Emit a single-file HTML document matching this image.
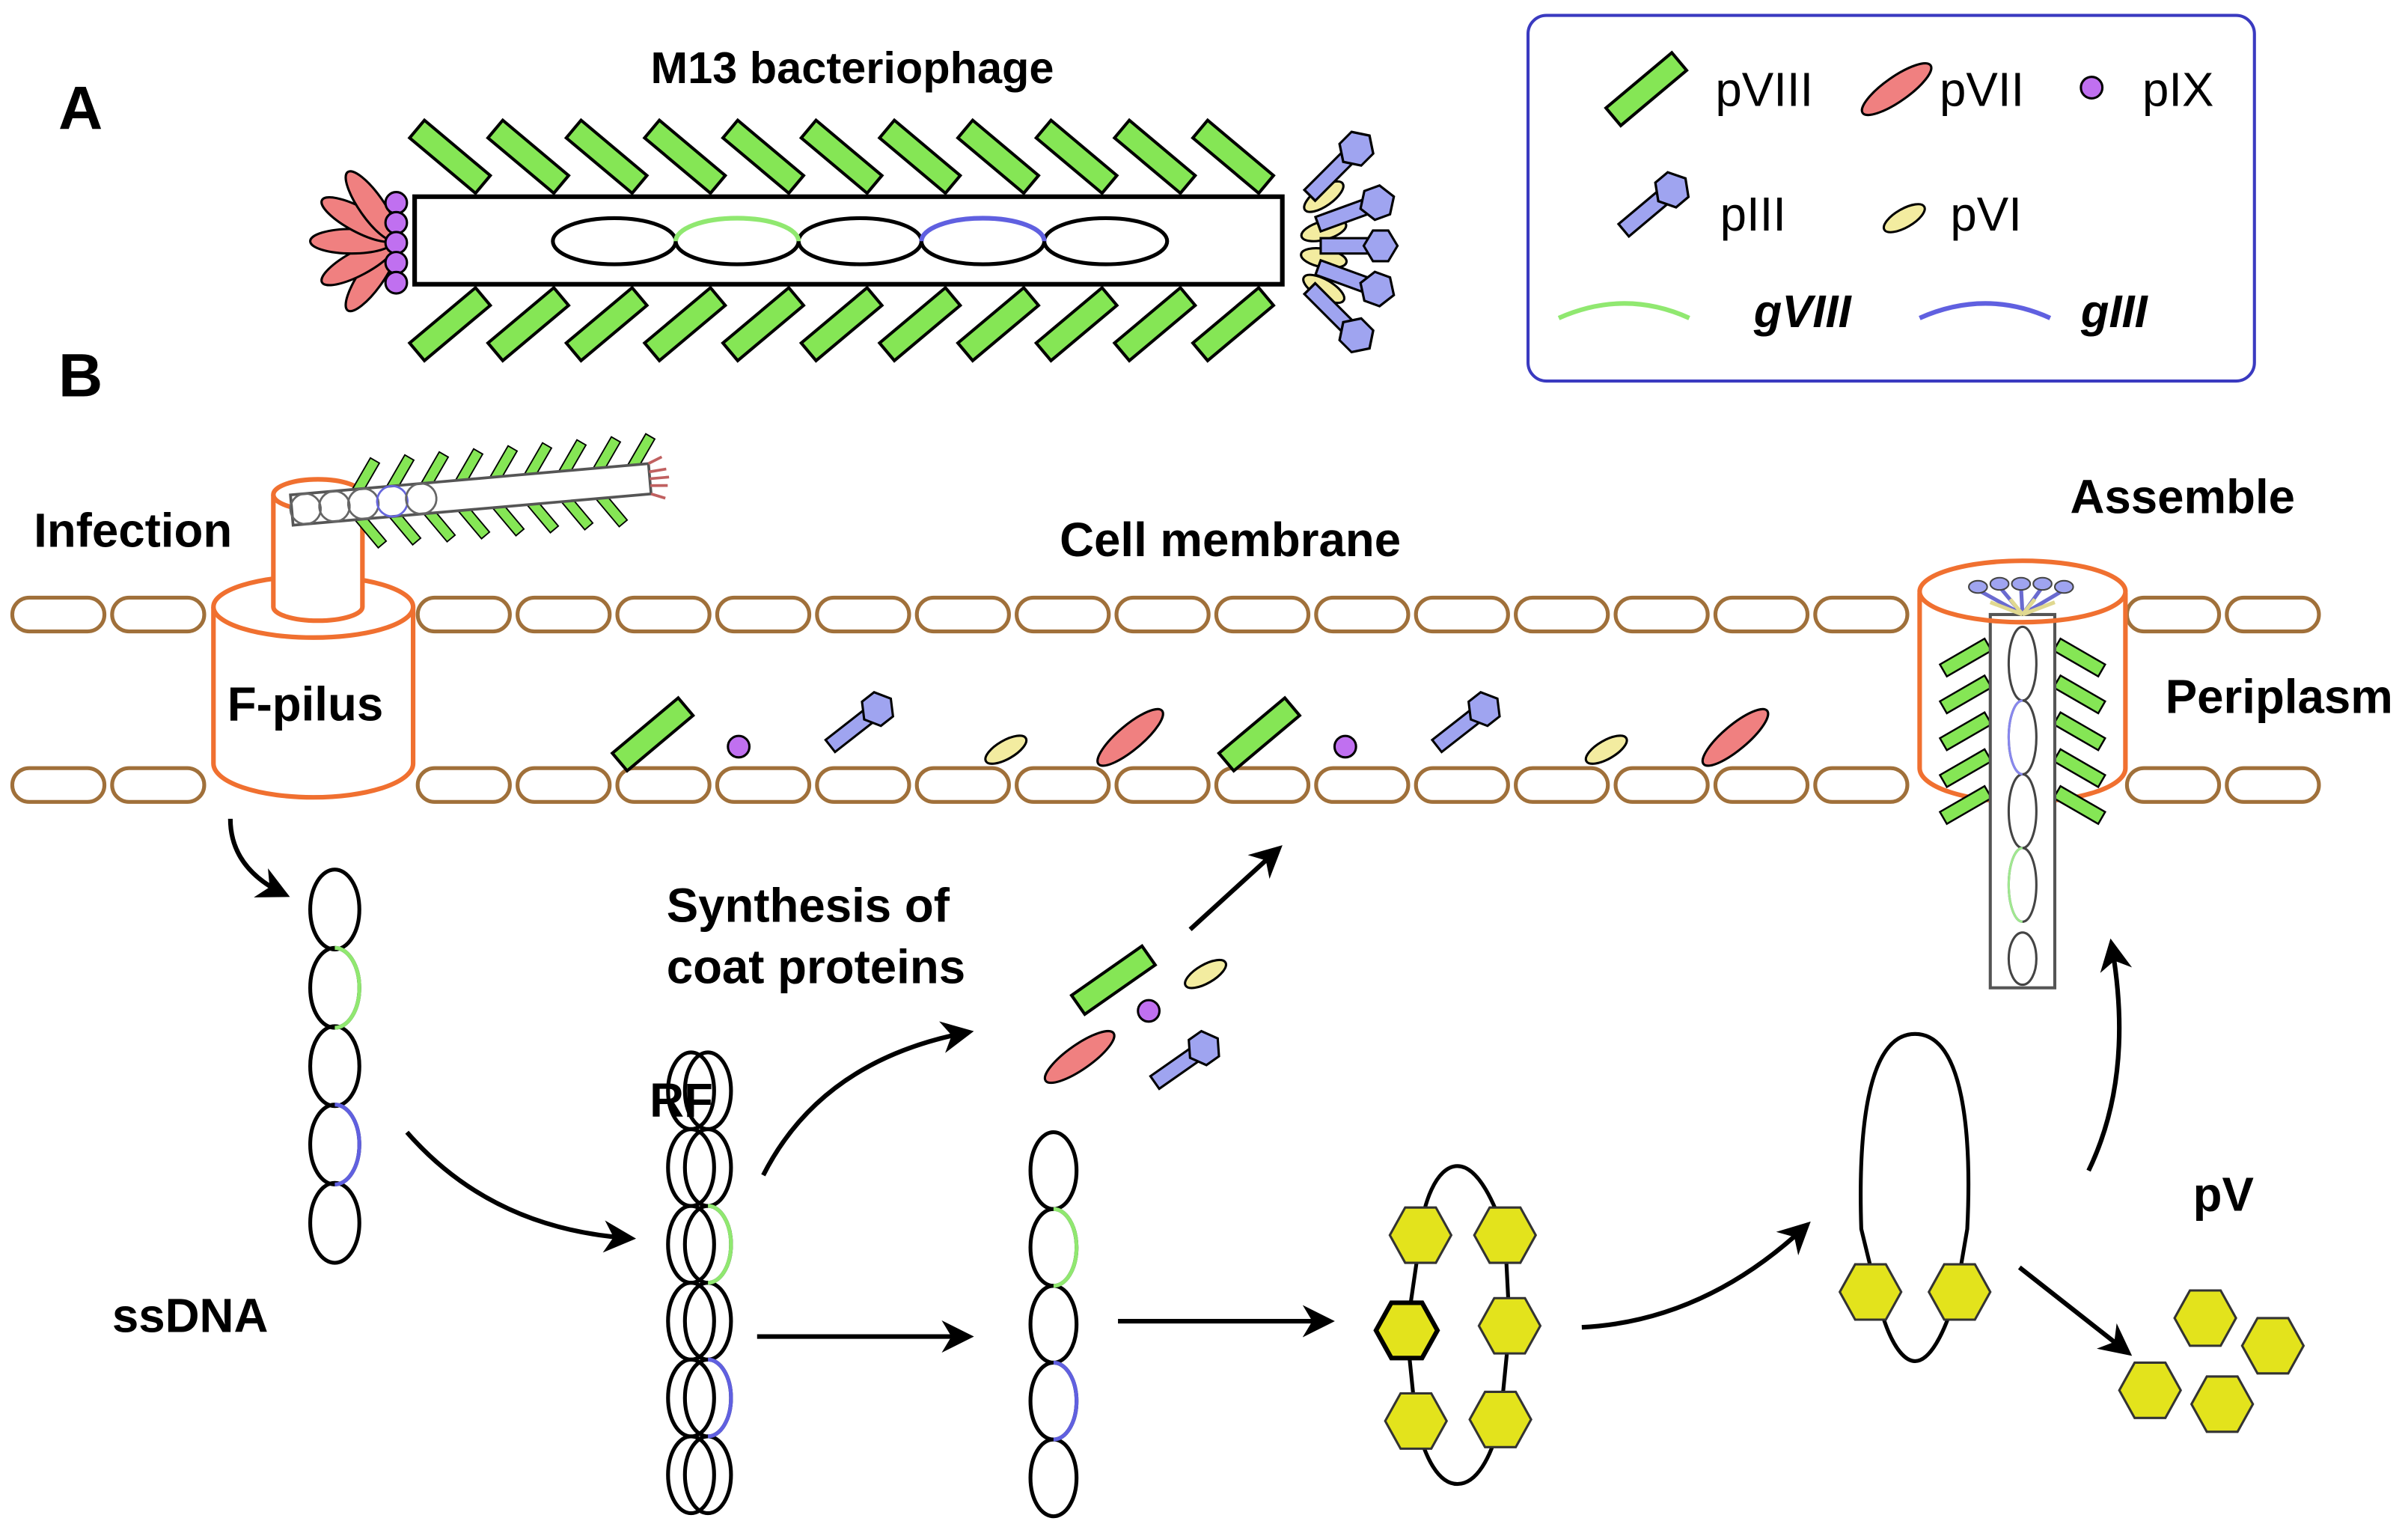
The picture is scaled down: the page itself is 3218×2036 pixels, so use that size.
<!DOCTYPE html>
<html><head><meta charset="utf-8"><style>
html,body{margin:0;padding:0;background:#fff;}
svg{display:block;}
text{font-family:"Liberation Sans",sans-serif;}
</style></head><body>
<svg width="3218" height="2036" viewBox="0 0 1568 992" xmlns="http://www.w3.org/2000/svg">
<defs>
<g id="p8"><rect x="-28" y="-7.5" width="56" height="15" fill="#85e655" stroke="#000" stroke-width="2"/></g>
<g id="p7"><ellipse rx="27" ry="8" fill="#f08080" stroke="#000" stroke-width="1.5"/></g>
<g id="p6"><ellipse rx="15" ry="6" fill="#f3eca0" stroke="#000" stroke-width="1.5"/></g>
<g id="p9"><circle r="7" fill="#c070f0" stroke="#000" stroke-width="1.5"/></g>
<g id="p3"><rect x="-22" y="-5" width="38" height="10" fill="#9fa4f0" stroke="#000" stroke-width="1.5"/><polygon points="28,0 22,-10 12,-10 6,0 12,10 22,10" fill="#9fa4f0" stroke="#000" stroke-width="1.5"/></g>
<g id="hx"><polygon points="20,0 10,-18 -10,-18 -20,0 -10,18 10,18" fill="#e3e31c" stroke="#333" stroke-width="1.5"/></g>
<g id="cap"><rect x="0" y="0" width="60" height="22" rx="11" fill="#fff" stroke="#a0703a" stroke-width="2.5"/></g>
<marker id="ar" viewBox="0 0 10 10" refX="8" refY="5" markerWidth="7" markerHeight="7" orient="auto"><path d="M0,0 L10,5 L0,10 L3,5 z" fill="#000"/></marker>
</defs>

<text x="38" y="84" font-size="40" font-weight="bold">A</text>
<text x="38" y="258" font-size="40" font-weight="bold">B</text>
<text x="555" y="54" font-size="29" font-weight="bold" text-anchor="middle">M13 bacteriophage</text>

<!-- phage A -->
<g>
<use href="#p8" transform="translate(293,102) rotate(40)"/><use href="#p8" transform="translate(344,102) rotate(40)"/><use href="#p8" transform="translate(395,102) rotate(40)"/><use href="#p8" transform="translate(446,102) rotate(40)"/><use href="#p8" transform="translate(497,102) rotate(40)"/><use href="#p8" transform="translate(548,102) rotate(40)"/><use href="#p8" transform="translate(599,102) rotate(40)"/><use href="#p8" transform="translate(650,102) rotate(40)"/><use href="#p8" transform="translate(701,102) rotate(40)"/><use href="#p8" transform="translate(752,102) rotate(40)"/><use href="#p8" transform="translate(803,102) rotate(40)"/>
<use href="#p8" transform="translate(293,211) rotate(-40)"/><use href="#p8" transform="translate(344,211) rotate(-40)"/><use href="#p8" transform="translate(395,211) rotate(-40)"/><use href="#p8" transform="translate(446,211) rotate(-40)"/><use href="#p8" transform="translate(497,211) rotate(-40)"/><use href="#p8" transform="translate(548,211) rotate(-40)"/><use href="#p8" transform="translate(599,211) rotate(-40)"/><use href="#p8" transform="translate(650,211) rotate(-40)"/><use href="#p8" transform="translate(701,211) rotate(-40)"/><use href="#p8" transform="translate(752,211) rotate(-40)"/><use href="#p8" transform="translate(803,211) rotate(-40)"/>
<use href="#p7" transform="translate(258,157) rotate(-55) translate(-28,0)"/>
<use href="#p7" transform="translate(260,157) rotate(-28) translate(-30,0)"/>
<use href="#p7" transform="translate(260,157) translate(-31,0)"/>
<use href="#p7" transform="translate(260,157) rotate(28) translate(-30,0)"/>
<use href="#p7" transform="translate(258,157) rotate(55) translate(-28,0)"/>
<use href="#p9" transform="translate(258,132)"/><use href="#p9" transform="translate(258,145)"/><use href="#p9" transform="translate(258,158)"/><use href="#p9" transform="translate(258,171)"/><use href="#p9" transform="translate(258,184)"/>
<use href="#p6" transform="translate(862,128) rotate(-35)"/><use href="#p6" transform="translate(862,150) rotate(-15)"/><use href="#p6" transform="translate(862,168) rotate(10)"/><use href="#p6" transform="translate(862,188) rotate(30)"/>
<use href="#p3" transform="translate(870,110) rotate(-45) scale(1.1,1)"/>
<use href="#p3" transform="translate(880,138) rotate(-20) scale(1.05,1)"/>
<use href="#p3" transform="translate(882,160) rotate(0)"/>
<use href="#p3" transform="translate(880,182) rotate(20) scale(1.05,1)"/>
<use href="#p3" transform="translate(870,205) rotate(45) scale(1.1,1)"/>
<rect x="270" y="128" width="565" height="57" fill="#fff" stroke="#000" stroke-width="3"/>
<ellipse cx="400" cy="157" rx="40" ry="15" fill="none" stroke="#000" stroke-width="2.5"/>
<ellipse cx="480" cy="157" rx="40" ry="15" fill="none" stroke="#000" stroke-width="2.5"/>
<ellipse cx="560" cy="157" rx="40" ry="15" fill="none" stroke="#000" stroke-width="2.5"/>
<ellipse cx="640" cy="157" rx="40" ry="15" fill="none" stroke="#000" stroke-width="2.5"/>
<ellipse cx="720" cy="157" rx="40" ry="15" fill="none" stroke="#000" stroke-width="2.5"/>
<path d="M440,157 A40,15 0 0 1 520,157" fill="none" stroke="#90e870" stroke-width="3"/>
<path d="M600,157 A40,15 0 0 1 680,157" fill="none" stroke="#6060e0" stroke-width="3"/>
</g>

<!-- legend -->
<rect x="995" y="10" width="473" height="238" rx="12" fill="#fff" stroke="#3a3ac0" stroke-width="2"/>
<use href="#p8" transform="translate(1072,58) rotate(-40)"/>
<text x="1117" y="69" font-size="31">pVIII</text>
<use href="#p7" transform="translate(1235,58) rotate(-35)"/>
<text x="1263" y="69" font-size="31">pVII</text>
<use href="#p9" transform="translate(1362,57)"/>
<text x="1395" y="69" font-size="31">pIX</text>
<use href="#p3" transform="translate(1075,135) rotate(-40) scale(1.05)"/>
<text x="1120" y="150" font-size="31">pIII</text>
<use href="#p6" transform="translate(1240,142) rotate(-30)"/>
<text x="1270" y="150" font-size="31">pVI</text>
<path d="M1015,207 Q1058,188 1100,207" fill="none" stroke="#90e870" stroke-width="3"/>
<text x="1142" y="213" font-size="30" font-style="italic" font-weight="bold">gVIII</text>
<path d="M1250,207 Q1293,188 1335,207" fill="none" stroke="#6060e0" stroke-width="3"/>
<text x="1355" y="213" font-size="30" font-style="italic" font-weight="bold">gIII</text>

<!-- membrane -->
<g>
<use href="#cap" x="8" y="389"/><use href="#cap" x="73" y="389"/><use href="#cap" x="272" y="389"/><use href="#cap" x="337" y="389"/><use href="#cap" x="402" y="389"/><use href="#cap" x="467" y="389"/><use href="#cap" x="532" y="389"/><use href="#cap" x="597" y="389"/><use href="#cap" x="662" y="389"/><use href="#cap" x="727" y="389"/><use href="#cap" x="792" y="389"/><use href="#cap" x="857" y="389"/><use href="#cap" x="922" y="389"/><use href="#cap" x="987" y="389"/><use href="#cap" x="1052" y="389"/><use href="#cap" x="1117" y="389"/><use href="#cap" x="1182" y="389"/><use href="#cap" x="1385" y="389"/><use href="#cap" x="1450" y="389"/>
<use href="#cap" x="8" y="500"/><use href="#cap" x="73" y="500"/><use href="#cap" x="272" y="500"/><use href="#cap" x="337" y="500"/><use href="#cap" x="402" y="500"/><use href="#cap" x="467" y="500"/><use href="#cap" x="532" y="500"/><use href="#cap" x="597" y="500"/><use href="#cap" x="662" y="500"/><use href="#cap" x="727" y="500"/><use href="#cap" x="792" y="500"/><use href="#cap" x="857" y="500"/><use href="#cap" x="922" y="500"/><use href="#cap" x="987" y="500"/><use href="#cap" x="1052" y="500"/><use href="#cap" x="1117" y="500"/><use href="#cap" x="1182" y="500"/><use href="#cap" x="1385" y="500"/><use href="#cap" x="1450" y="500"/>
</g>

<!-- F-pilus -->
<path d="M139,395 L139,497 A65,22 0 0 0 269,497 L269,395" fill="#fff" stroke="#f07030" stroke-width="3"/>
<ellipse cx="204" cy="395" rx="65" ry="20" fill="#fff" stroke="#f07030" stroke-width="3"/>
<path d="M178,322 L178,395 A29,9 0 0 0 236,395 L236,322" fill="#fff" stroke="#f07030" stroke-width="3"/>
<ellipse cx="207" cy="322" rx="29" ry="10" fill="#fff" stroke="#f07030" stroke-width="3"/>
<g transform="translate(190,332) rotate(-5)">
<g transform="scale(0.45)">
<use href="#p8" transform="translate(110,-38) rotate(-55)"/><use href="#p8" transform="translate(160,-38) rotate(-55)"/><use href="#p8" transform="translate(210,-38) rotate(-55)"/><use href="#p8" transform="translate(260,-38) rotate(-55)"/><use href="#p8" transform="translate(310,-38) rotate(-55)"/><use href="#p8" transform="translate(360,-38) rotate(-55)"/><use href="#p8" transform="translate(410,-38) rotate(-55)"/><use href="#p8" transform="translate(460,-38) rotate(-55)"/><use href="#p8" transform="translate(510,-38) rotate(-55)"/>
<use href="#p8" transform="translate(110,38) rotate(55)"/><use href="#p8" transform="translate(160,38) rotate(55)"/><use href="#p8" transform="translate(210,38) rotate(55)"/><use href="#p8" transform="translate(260,38) rotate(55)"/><use href="#p8" transform="translate(310,38) rotate(55)"/><use href="#p8" transform="translate(360,38) rotate(55)"/><use href="#p8" transform="translate(410,38) rotate(55)"/><use href="#p8" transform="translate(460,38) rotate(55)"/>
<rect x="0" y="-22" width="520" height="44" fill="#fff" stroke="#555" stroke-width="4"/>
<circle cx="20" cy="0" r="22" fill="none" stroke="#666" stroke-width="3"/><circle cx="62" cy="0" r="22" fill="none" stroke="#666" stroke-width="3"/><circle cx="104" cy="0" r="22" fill="none" stroke="#666" stroke-width="3"/><circle cx="146" cy="0" r="22" fill="none" stroke="#6666dd" stroke-width="3"/><circle cx="188" cy="0" r="22" fill="none" stroke="#666" stroke-width="3"/>
<path d="M520,-22 L540,-30 M520,-10 L545,-12 M520,0 L548,0 M520,10 L545,12 M520,22 L540,30" stroke="#c06060" stroke-width="4"/>
</g></g>

<!-- assembly cylinder -->
<path d="M1250,386 L1250,500 A67,22 0 0 0 1384,500 L1384,386" fill="#fff" stroke="#f07030" stroke-width="3"/>
<use href="#p8" transform="translate(1280,428) rotate(-30) scale(0.6)"/><use href="#p8" transform="translate(1280,452) rotate(-30) scale(0.6)"/><use href="#p8" transform="translate(1280,476) rotate(-30) scale(0.6)"/><use href="#p8" transform="translate(1280,500) rotate(-30) scale(0.6)"/><use href="#p8" transform="translate(1280,524) rotate(-30) scale(0.6)"/>
<use href="#p8" transform="translate(1354,428) rotate(30) scale(0.6)"/><use href="#p8" transform="translate(1354,452) rotate(30) scale(0.6)"/><use href="#p8" transform="translate(1354,476) rotate(30) scale(0.6)"/><use href="#p8" transform="translate(1354,500) rotate(30) scale(0.6)"/><use href="#p8" transform="translate(1354,524) rotate(30) scale(0.6)"/>
<rect x="1296" y="400" width="42" height="243" fill="#fff" stroke="#555" stroke-width="2"/>
<ellipse cx="1317" cy="432" rx="9" ry="24" fill="none" stroke="#444" stroke-width="1.5"/>
<ellipse cx="1317" cy="480" rx="9" ry="24" fill="none" stroke="#444" stroke-width="1.5"/>
<ellipse cx="1317" cy="528" rx="9" ry="24" fill="none" stroke="#444" stroke-width="1.5"/>
<ellipse cx="1317" cy="576" rx="9" ry="24" fill="none" stroke="#444" stroke-width="1.5"/>
<ellipse cx="1317" cy="624" rx="9" ry="17" fill="none" stroke="#444" stroke-width="1.5"/>
<path d="M1317,456 A9,24 0 0 0 1317,504" fill="none" stroke="#8888ee" stroke-width="1.5"/>
<path d="M1317,552 A9,24 0 0 0 1317,600" fill="none" stroke="#a0e890" stroke-width="1.5"/>
<ellipse cx="1317" cy="385" rx="67" ry="20" fill="none" stroke="#f07030" stroke-width="3"/>
<g stroke="#6a6ad0" stroke-width="2.5"><line x1="1317" y1="400" x2="1288" y2="384"/><line x1="1317" y1="400" x2="1302" y2="382"/><line x1="1317" y1="400" x2="1316" y2="382"/><line x1="1317" y1="400" x2="1330" y2="382"/><line x1="1317" y1="400" x2="1344" y2="384"/></g>
<g fill="#9fa4f0" stroke="#444" stroke-width="1"><ellipse cx="1288" cy="382" rx="6" ry="4"/><ellipse cx="1302" cy="380" rx="6" ry="4"/><ellipse cx="1316" cy="380" rx="6" ry="4"/><ellipse cx="1330" cy="380" rx="6" ry="4"/><ellipse cx="1344" cy="382" rx="6" ry="4"/></g>
<g stroke="#e0d890" stroke-width="2.5"><line x1="1317" y1="400" x2="1296" y2="392"/><line x1="1317" y1="400" x2="1309" y2="390"/><line x1="1317" y1="400" x2="1325" y2="390"/><line x1="1317" y1="400" x2="1338" y2="392"/></g>

<!-- membrane proteins -->
<use href="#p8" transform="translate(425,478) rotate(-40)"/>
<use href="#p9" transform="translate(481,486)"/>
<use href="#p3" transform="translate(558,472) rotate(-38)"/>
<use href="#p6" transform="translate(655,488) rotate(-30)"/>
<use href="#p7" transform="translate(736,480) rotate(-40)"/>
<use href="#p8" transform="translate(820,478) rotate(-40)"/>
<use href="#p9" transform="translate(876,486)"/>
<use href="#p3" transform="translate(953,472) rotate(-38)"/>
<use href="#p6" transform="translate(1046,488) rotate(-30)"/>
<use href="#p7" transform="translate(1130,480) rotate(-40)"/>

<!-- labels B -->
<g font-size="31" font-weight="bold">
<text x="22" y="356">Infection</text>
<text x="690" y="362">Cell membrane</text>
<text x="1348" y="334">Assemble</text>
<text x="148" y="469">F-pilus</text>
<text x="1410" y="464">Periplasm</text>
<text x="434" y="600">Synthesis of</text>
<text x="434" y="640">coat proteins</text>
<text x="423" y="727">RF</text>
<text x="73" y="867">ssDNA</text>
<text x="1428" y="788">pV</text>
</g>

<!-- ssDNA -->
<g fill="none" stroke="#000" stroke-width="2.5">
<ellipse cx="218" cy="592" rx="16" ry="26"/><ellipse cx="218" cy="643" rx="16" ry="26"/><ellipse cx="218" cy="694" rx="16" ry="26"/><ellipse cx="218" cy="745" rx="16" ry="26"/><ellipse cx="218" cy="796" rx="16" ry="26"/>
</g>
<path d="M218,617 A16,26 0 0 1 218,669" fill="none" stroke="#90e870" stroke-width="2.5"/>
<path d="M218,719 A16,26 0 0 1 218,771" fill="none" stroke="#6060e0" stroke-width="2.5"/>

<!-- RF -->
<g fill="none" stroke="#000" stroke-width="2.5">
<ellipse cx="450" cy="710" rx="15" ry="25"/><ellipse cx="450" cy="760" rx="15" ry="25"/><ellipse cx="450" cy="810" rx="15" ry="25"/><ellipse cx="450" cy="860" rx="15" ry="25"/><ellipse cx="450" cy="910" rx="15" ry="25"/><ellipse cx="450" cy="960" rx="15" ry="25"/>
<ellipse cx="461" cy="710" rx="15" ry="25"/><ellipse cx="461" cy="760" rx="15" ry="25"/><ellipse cx="461" cy="810" rx="15" ry="25"/><ellipse cx="461" cy="860" rx="15" ry="25"/><ellipse cx="461" cy="910" rx="15" ry="25"/><ellipse cx="461" cy="960" rx="15" ry="25"/>
</g>
<path d="M461,785 A15,25 0 0 1 461,835" fill="none" stroke="#90e870" stroke-width="2.5"/>
<path d="M461,885 A15,25 0 0 1 461,935" fill="none" stroke="#6060e0" stroke-width="2.5"/>

<!-- ss chain 3 -->
<g fill="none" stroke="#000" stroke-width="2.5">
<ellipse cx="686" cy="762" rx="15" ry="25"/><ellipse cx="686" cy="812" rx="15" ry="25"/><ellipse cx="686" cy="862" rx="15" ry="25"/><ellipse cx="686" cy="912" rx="15" ry="25"/><ellipse cx="686" cy="962" rx="15" ry="25"/>
</g>
<path d="M686,787 A15,25 0 0 1 686,837" fill="none" stroke="#90e870" stroke-width="2.5"/>
<path d="M686,887 A15,25 0 0 1 686,937" fill="none" stroke="#6060e0" stroke-width="2.5"/>

<!-- free proteins -->
<use href="#p8" transform="translate(725,638) rotate(-35)"/>
<use href="#p6" transform="translate(785,634) rotate(-30)"/>
<use href="#p9" transform="translate(748,658)"/>
<use href="#p7" transform="translate(703,688) rotate(-35)"/>
<use href="#p3" transform="translate(770,692) rotate(-35)"/>

<!-- rings -->
<path d="M949,759 C935,759 926,785 925,804 L916,866 L922,925 C928,950 937,966 949,966 C961,966 971,950 977,924 L983,863 L980,804 C974,785 963,759 949,759 Z" fill="none" stroke="#000" stroke-width="2.5"/>
<use href="#hx" transform="translate(925,804)"/><use href="#hx" transform="translate(980,804)"/>
<g transform="translate(916,866)"><polygon points="20,0 10,-18 -10,-18 -20,0 -10,18 10,18" fill="#e3e31c" stroke="#000" stroke-width="3"/></g>
<use href="#hx" transform="translate(983,863)"/>
<use href="#hx" transform="translate(922,925)"/><use href="#hx" transform="translate(977,924)"/>
<path d="M1247,673 C1215,673 1210,740 1212,800 L1222,841 C1228,870 1238,886 1247,886 C1256,886 1266,870 1274,841 L1281,800 C1284,740 1279,673 1247,673 Z" fill="none" stroke="#000" stroke-width="2.5"/>
<use href="#hx" transform="translate(1218,841)"/><use href="#hx" transform="translate(1276,841)"/>
<use href="#hx" transform="translate(1436,858)"/><use href="#hx" transform="translate(1480,876)"/><use href="#hx" transform="translate(1400,905)"/><use href="#hx" transform="translate(1447,914)"/>

<!-- arrows -->
<g fill="none" stroke="#000" stroke-width="3" marker-end="url(#ar)">
<path d="M150,533 Q150,565 185,582"/>
<path d="M265,737 Q320,800 410,806"/>
<path d="M497,765 Q535,690 630,672"/>
<path d="M775,605 L832,553"/>
<path d="M493,870 L630,870"/>
<path d="M728,860 L865,860"/>
<path d="M1030,864 Q1110,860 1176,798"/>
<path d="M1360,762 Q1390,700 1375,615"/>
<path d="M1315,825 L1385,880"/>
</g>
</svg>
</body></html>
